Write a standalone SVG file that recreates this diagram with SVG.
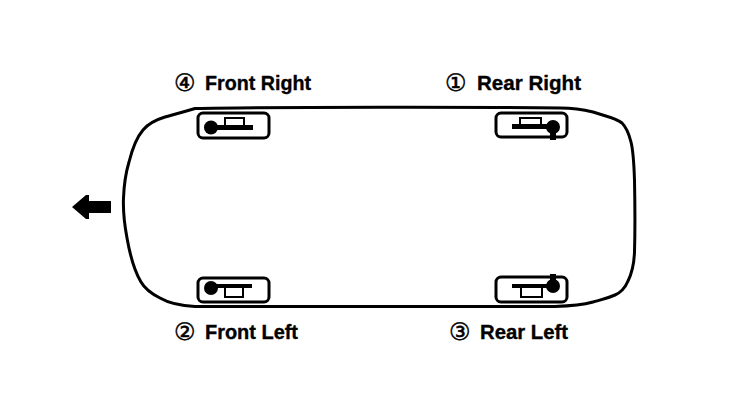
<svg xmlns="http://www.w3.org/2000/svg" width="736" height="408" viewBox="0 0 736 408">
<style>
.lbl{font-family:"Liberation Sans",Arial,sans-serif;font-weight:700;font-size:20px;fill:#000;stroke:#000;stroke-width:.35px}
.num{font-family:"DejaVu Sans",sans-serif;font-weight:400;font-size:24px;fill:#000;stroke:#000;stroke-width:.5px}
.box{fill:#fff;stroke:#000;stroke-width:3}
.thin{fill:#fff;stroke:#000;stroke-width:2}
.bar{fill:none;stroke:#000;stroke-width:4}
.body{fill:none;stroke:#000;stroke-width:3}
</style>
<g id="car-body">
<path class="body" d="M195 108.500C260 107 500 107 560 108C575 108 585 110 593 112C605 116 616 118 622 123C626 127 629 134 631 142C633 150 634 165 634.500 180C635 205 635 235 634.500 252C634 265 631 275 628 281C625 288 622 292 615 295C606 299 600 300 593 302C582 305 570 306 555 306.500L195 306.500C185 306 172 305 160 298C152 294 145 289 141 282C135 272 130 255 127 238C124 222 123 210 123.500 198C124 185 126 172 129 162C132 150 137 137 143 130C148 124 155 120 165 117C172 115 180 113 195 108.500Z"/>
</g>
<g id="arrow">
<polygon points="72,207 86,195 89,195 89,201 111,201 111,213 89,213 89,219 86,219"/>
</g>
<g id="front-right">
<rect class="box" x="198" y="113" width="71" height="25" rx="5"/>
<rect class="thin" x="225" y="118" width="19" height="9"/>
<path class="bar" d="M212 127.500H253" style="stroke-width:5"/>
<circle cx="211" cy="127.500" r="7"/>
<text x="174" y="91" class="num">④</text>
<text x="205" y="90" class="lbl" textLength="106" lengthAdjust="spacingAndGlyphs">Front Right</text>
</g>
<g id="rear-right">
<rect class="box" x="496" y="113" width="71" height="24" rx="5"/>
<rect class="thin" x="520" y="118" width="21" height="8"/>
<path class="bar" d="M512 126.500H552" style="stroke-width:5"/>
<circle cx="553" cy="127" r="7"/>
<rect x="550" y="128" width="6" height="12"/>
<text x="445" y="91" class="num">①</text>
<text x="477" y="90" class="lbl" textLength="104" lengthAdjust="spacingAndGlyphs">Rear Right</text>
</g>
<g id="front-left">
<rect class="box" x="198" y="278" width="71" height="24" rx="5"/>
<rect class="thin" x="225" y="287" width="18" height="10"/>
<path class="bar" d="M212 286H252"/>
<circle cx="211" cy="288" r="7"/>
<text x="174" y="340" class="num">②</text>
<text x="205" y="339" class="lbl" textLength="93" lengthAdjust="spacingAndGlyphs">Front Left</text>
</g>
<g id="rear-left">
<rect class="box" x="496" y="277" width="71" height="25" rx="5"/>
<rect class="thin" x="521" y="287" width="21" height="10"/>
<path class="bar" d="M512 286H552"/>
<circle cx="553" cy="286" r="7"/>
<rect x="550" y="274" width="6" height="10"/>
<text x="449" y="340" class="num">③</text>
<text x="480" y="339" class="lbl" textLength="88" lengthAdjust="spacingAndGlyphs">Rear Left</text>
</g>
</svg>
